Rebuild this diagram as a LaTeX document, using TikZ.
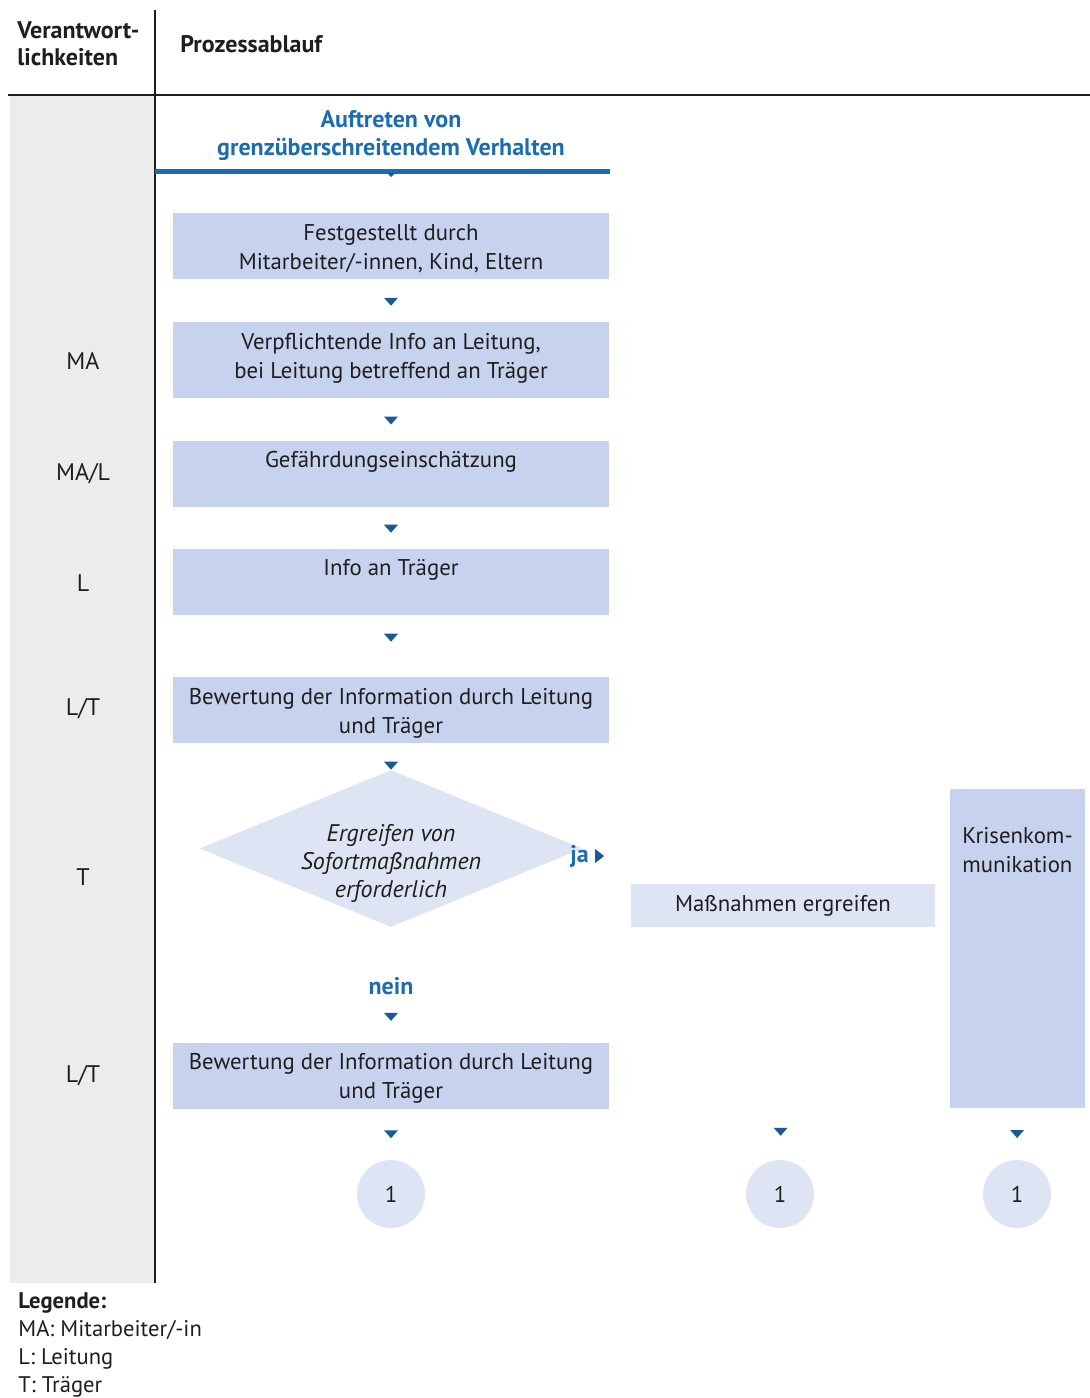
\documentclass[tikz,border=0pt]{standalone}
\usepackage{fontspec}
\setmainfont{PT Sans}
\usetikzlibrary{shapes.geometric,positioning}

\definecolor{kastenblau}{RGB}{199,210,238}
\definecolor{hellblau}{RGB}{222,228,244}
\definecolor{spaltengrau}{RGB}{236,236,236}
\definecolor{textblau}{RGB}{28,108,178}
\definecolor{pfeilblau}{RGB}{26,88,150}
\definecolor{schrift}{RGB}{30,30,30}

% kleine Dreiecke als Pfeile
\newcommand{\pfeil}[1]{\fill[pfeilblau,shift={(#1)}] (-7,-4) -- (7,-4) -- (0,4) -- cycle;}
\newcommand{\pfeilr}[1]{\fill[pfeilblau,shift={(#1)}] (-4,-7) -- (-4,7) -- (5,0) -- cycle;}

\tikzset{
  grund/.style={font=\fontsize{11.4}{14.5}\selectfont},
  fett/.style={font=\fontsize{12}{14}\selectfont\bfseries},
  schritt/.style={grund, fill=kastenblau, minimum width=218pt, inner sep=0pt, align=center,
    text height=28pt, text depth=5pt},
  einzeilig/.style={text height=13.5pt, text depth=19.5pt},
  hoch/.style={text depth=10pt},
  massbox/.style={grund, fill=hellblau, minimum width=152pt, minimum height=21.5pt, inner sep=0pt},
  krisebox/.style={grund, fill=kastenblau, minimum width=67.5pt, inner sep=0pt, align=left,
    text height=41.5pt, text depth=118pt},
  raute/.style={diamond, fill=hellblau, minimum width=191.5pt, minimum height=78.5pt, inner sep=0pt},
  kreis/.style={grund, circle, fill=hellblau, minimum size=34pt, inner sep=0pt},
  rolle/.style={font=\fontsize{12}{14}\selectfont},
  kopf/.style={fett, inner sep=0pt},
  jn/.style={fett, text=textblau, inner sep=0pt},
  linie/.style={draw=schrift, line width=0.8pt}
}

\begin{document}
\begin{tikzpicture}[x=0.5pt, y=-0.5pt, text=schrift]
\useasboundingbox (0,0) rectangle (1090,1398);

% Spalte und Linien
\fill[spaltengrau] (10,96) rectangle (155,1283);
\draw[linie] (155,10) -- (155,1283);
\draw[linie] (8,95) -- (1090,95);

% Kopf
\node[kopf, align=left, anchor=west, font=\fontsize{12}{13.5}\selectfont\bfseries] (kopfV) at (17,44) {Verantwort-\\lichkeiten};
\node[kopf, anchor=west] (kopfP) at (180,44) {Prozessablauf};

% Start
\node[jn, align=center] (titel) at (391,136) {Auftreten von\\grenzüberschreitendem Verhalten};
\draw[textblau, line width=2.5pt] (155,171) -- (610,171);
\fill[pfeilblau] (387,173) -- (395,173) -- (391,177) -- cycle;

% Ablauf
\node[schritt] (s1) at (391,246) {Festgestellt durch\\Mitarbeiter/-innen, Kind, Eltern};
\node[schritt, hoch] (s2) at (391,360) {Verpflichtende Info an Leitung,\\bei Leitung betreffend an Träger};
\node[schritt, einzeilig] (s3) at (391,473.5) {Gefährdungseinschätzung};
\node[schritt, einzeilig] (s4) at (391,581.5) {Info an Träger};
\node[schritt] (s5) at (391,710) {Bewertung der Information durch Leitung\\und Träger};
\node[raute, label={[yshift=-7.5pt, align=center, font=\fontsize{12}{14}\selectfont\itshape]center:Ergreifen von\\Sofortmaßnahmen\\erforderlich}] (raute) at (391,848.5) {};
\node[schritt] (s6) at (391,1075.5) {Bewertung der Information durch Leitung\\und Träger};
\node[massbox] (massn) at (783,905.5) {Maßnahmen ergreifen};
\node[krisebox] (krise) at (1017.5,948.5) {Krisenkom-\\munikation};

\node[kreis] (k1) at (391,1194) {1};
\node[kreis] (k2) at (780,1194) {1};
\node[kreis] (k3) at (1017,1194) {1};

% Verbindungen
\path (s1) -- coordinate[pos=.53] (p1) (s2);
\path (s2) -- coordinate[pos=.53] (p2) (s3);
\path (s3) -- coordinate[pos=.53] (p3) (s4);
\path (s4) -- coordinate[pos=.37] (p4) (s5);
\path (s5) -- coordinate[pos=.85] (p5) (raute);
\path (raute) -- node[pos=.51, jn] (nein) {nein} coordinate[pos=.78] (p6) (s6);
\path (s6) -- coordinate[midway] (p7) (k1);
\path (massn) -- coordinate[pos=.88] (p8) (k2);
\path (krise) -- coordinate[midway] (p9) (k3);
\foreach \p in {p1,p2,p3,p4,p5,p6,p7,p8,p9} {\pfeil{\p}}

\node[jn, anchor=west] (ja) at (570,856) {ja};
\coordinate[right=5pt of ja] (pja);
\pfeilr{pja}

% Rollen
\node[rolle] (r1) at (83,361) {MA};
\node[rolle] (r2) at (83,474) {MA/L};
\node[rolle] (r3) at (83,583) {L};
\node[rolle] (r4) at (83,709) {L/T};
\node[rolle] (r5) at (83,877) {T};
\node[rolle] (r6) at (83,1076) {L/T};

% Legende
\node[anchor=north west, align=left, inner sep=0pt, font=\fontsize{11.3}{14}\selectfont] (legende) at (18,1292)
  {\textbf{Legende:}\\MA: Mitarbeiter/-in\\L: Leitung\\T: Träger};
\end{tikzpicture}
\end{document}
